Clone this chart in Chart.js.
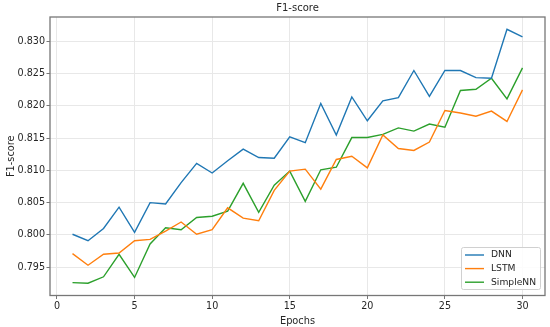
<!DOCTYPE html>
<html>
<head>
<meta charset="utf-8">
<script src="https://cdn.jsdelivr.net/npm/chart.js@4"></script>
<style>
  html, body { margin: 0; padding: 0; background: #fff; }
  #wrap { width: 550px; height: 327px; }
</style>
</head>
<body>
<div id="wrap"><canvas id="f1-chart"></canvas></div>
<script>
  var epochs = [];
  for (var i = 1; i <= 30; i++) epochs.push(i);

  var dnn = [0.8001, 0.7991, 0.8010, 0.8043, 0.8004, 0.8050, 0.8048, 0.8081, 0.8111, 0.8096,
             0.8115, 0.8133, 0.8120, 0.8119, 0.8152, 0.8143, 0.8204, 0.8155, 0.8214, 0.8177,
             0.8208, 0.8213, 0.8255, 0.8215, 0.8255, 0.8255, 0.8244, 0.8243, 0.8319, 0.8307];
  var lstm = [0.7971, 0.7953, 0.7970, 0.7972, 0.7991, 0.7993, 0.8006, 0.8020, 0.8001, 0.8008,
              0.8042, 0.8026, 0.8022, 0.8069, 0.8099, 0.8102, 0.8071, 0.8117, 0.8122, 0.8104,
              0.8155, 0.8134, 0.8131, 0.8144, 0.8193, 0.8189, 0.8184, 0.8192, 0.8176, 0.8225];
  var simple = [0.7926, 0.7925, 0.7935, 0.7970, 0.7934, 0.7986, 0.8011, 0.8008, 0.8027, 0.8029,
                0.8037, 0.8080, 0.8035, 0.8077, 0.8099, 0.8052, 0.8101, 0.8105, 0.8151, 0.8151,
                0.8156, 0.8166, 0.8161, 0.8172, 0.8167, 0.8224, 0.8226, 0.8243, 0.8211, 0.8259];

  var xTicks = [0, 5, 10, 15, 20, 25, 30];
  var yTicks = [0.795, 0.800, 0.805, 0.810, 0.815, 0.820, 0.825, 0.830];

  var seriesNames = ['DNN', 'LSTM', 'SimpleNN'];
  var colors = ['#1f77b4', '#ff7f0e', '#2ca02c'];
  var textColor = '#262626';
  var chartTitle = 'F1-score';

  function toPoints(vals) {
    return vals.map(function(v, i) { return { x: epochs[i], y: v }; });
  }

  // title over the plot area, frame round it, legend box in the lower right
  var framePlugin = {
    id: 'frame',
    afterDraw: function(chart) {
      var ctx = chart.ctx, a = chart.chartArea;
      ctx.save();
      ctx.strokeStyle = '#777';
      ctx.lineWidth = 1.3;
      ctx.strokeRect(a.left, a.top, a.right - a.left, a.bottom - a.top);

      ctx.fillStyle = textColor;
      ctx.font = '10px "DejaVu Sans"';
      ctx.textAlign = 'center';
      ctx.textBaseline = 'middle';
      ctx.fillText(chartTitle, (a.left + a.right) / 2, 8);

      var bx = a.right - 84, by = a.bottom - 48.5, bw = 79, bh = 42;
      ctx.fillStyle = 'rgba(255,255,255,0.85)';
      ctx.strokeStyle = '#d0d0d0';
      ctx.lineWidth = 1;
      ctx.beginPath();
      if (ctx.roundRect) ctx.roundRect(bx + 0.5, by + 0.5, bw, bh, 2);
      else ctx.rect(bx + 0.5, by + 0.5, bw, bh);
      ctx.fill();
      ctx.stroke();

      ctx.font = '9.2px "DejaVu Sans"';
      ctx.textAlign = 'left';
      seriesNames.forEach(function(name, i) {
        var yy = by + 8 + i * 13.6;
        ctx.strokeStyle = colors[i];
        ctx.lineWidth = 1.4;
        ctx.beginPath();
        ctx.moveTo(bx + 4, yy);
        ctx.lineTo(bx + 23, yy);
        ctx.stroke();
        ctx.fillStyle = textColor;
        ctx.fillText(name, bx + 30, yy);
      });
      ctx.restore();
    }
  };

  var ctx = document.getElementById('f1-chart').getContext('2d');
  var f1Chart = new Chart(ctx, {
    type: 'line',
    data: {
      datasets: [
        { label: seriesNames[0], data: toPoints(dnn), borderColor: colors[0] },
        { label: seriesNames[1], data: toPoints(lstm), borderColor: colors[1] },
        { label: seriesNames[2], data: toPoints(simple), borderColor: colors[2] }
      ]
    },
    options: {
      responsive: true,
      maintainAspectRatio: false,
      animation: false,
      layout: { padding: { top: 17, right: 5, bottom: 0, left: 0 } },
      elements: {
        point: { radius: 0 },
        line: { borderWidth: 1.4, tension: 0, fill: false }
      },
      plugins: {
        legend: { display: false },
        tooltip: { enabled: false },
        title: { display: false }
      },
      scales: {
        x: {
          type: 'linear',
          min: -0.45,
          max: 31.45,
          afterBuildTicks: function(axis) {
            axis.ticks = xTicks.map(function(v) { return { value: v }; });
          },
          afterFit: function(axis) { axis.height = 31.5; },
          grid: { color: '#e8e8e8', lineWidth: 1, drawTicks: true, tickLength: 3.5, tickColor: '#777' },
          border: { display: false },
          ticks: {
            color: textColor,
            font: { family: 'DejaVu Sans', size: 9.6 },
            padding: 1.5,
            maxRotation: 0
          },
          title: {
            display: true,
            text: 'Epochs',
            color: textColor,
            font: { family: 'DejaVu Sans', size: 9.8 },
            padding: { top: 6, bottom: 0 }
          }
        },
        y: {
          min: 0.7906,
          max: 0.8338,
          afterBuildTicks: function(axis) {
            axis.ticks = yTicks.map(function(v) { return { value: v }; });
          },
          afterFit: function(axis) { axis.width = 50; },
          grid: { color: '#e8e8e8', lineWidth: 1, drawTicks: true, tickLength: 3.5, tickColor: '#777' },
          border: { display: false },
          ticks: {
            color: textColor,
            font: { family: 'DejaVu Sans', size: 9.6 },
            padding: 1.5,
            callback: function(v) { return v.toFixed(3); }
          },
          title: {
            display: true,
            text: 'F1-score',
            color: textColor,
            font: { family: 'DejaVu Sans', size: 9.8 },
            padding: { top: 6, bottom: 0 }
          }
        }
      }
    },
    plugins: [framePlugin]
  });
</script>
</body>
</html>
